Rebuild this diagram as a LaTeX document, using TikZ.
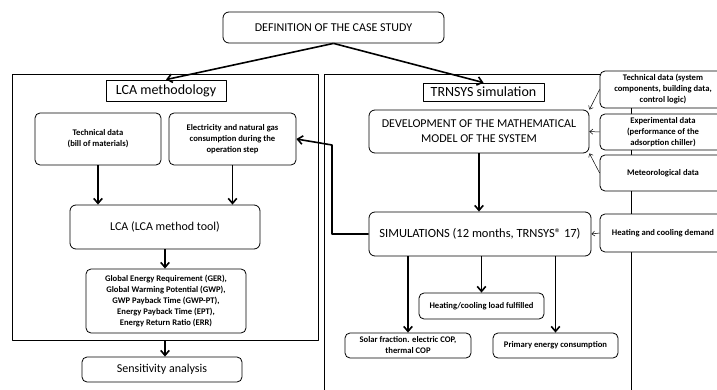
\documentclass[tikz,border=0pt]{standalone}
\usepackage{fontspec}
\setmainfont{Carlito}
\usetikzlibrary{arrows.meta}
\tikzset{
  box/.style={draw, rounded corners=6pt, fill=white, inner sep=0pt, align=center,
    font=\fontsize{12}{15}\selectfont},
  smallbox/.style={box, rounded corners=5pt, minimum width=126pt,
    font=\fontsize{8.6}{11}\selectfont\bfseries},
  headbox/.style={draw, fill=white, inner sep=0pt, font=\fontsize{14}{16}\selectfont},
  framebox/.style={draw, line width=0.8pt},
  flow/.style={-{Straight Barb[length=5pt,width=8.5pt]}, line width=1.6pt},
  feed/.style={-{Straight Barb[length=3pt,width=5pt]}, line width=0.5pt}
}
\begin{document}
\begin{tikzpicture}[x=1pt, y=-1pt, line width=0.8pt, line join=round]
            \useasboundingbox (0,0) rectangle (717,390);
            \clip (0,0) rectangle (717,390);
            \def\xd{663} % column of the input data boxes
            % the two frames
            \draw[framebox] (12,74) rectangle (318,340);
            \draw[framebox] (324,74) rectangle (631,400);
            \coordinate (lcabot) at (165,340);
            \coordinate (fbk) at (332,145);
            % top
            \node[box, minimum width=221pt, minimum height=31pt] (defin) at (333.5,27.5) {DEFINITION OF THE CASE STUDY};
            % LCA side
            \node[headbox, minimum width=120pt, minimum height=21pt] (lcahead) at (166,90.5) {LCA methodology};
            \node[smallbox, minimum height=52pt] (techbom) at (98,139) {Technical data\\(bill of materials)};
            \node[smallbox, minimum width=127pt, minimum height=52pt] (elec) at (232.5,139) {Electricity and natural gas\\consumption\ during the\\operation step};
            \node[box, minimum width=190pt, minimum height=44pt] (lcatool) at (165,227) {LCA (LCA method tool)};
            \node[smallbox, minimum width=160pt, minimum height=64pt] (indic) at (166,301) {Global Energy Requirement (GER),\\Global Warming\ Potential (GWP),\\GWP Payback Time (GWP-PT),\\Energy\ Payback Time (EPT),\\Energy Return Ratio (ERR)};
            \node[box, rounded corners=5pt, minimum width=160pt, minimum height=25pt] (sens) at (162,369.5) {Sensitivity analysis};
            % TRNSYS side
            \node[headbox, minimum width=121pt, minimum height=18pt] (trnhead) at (483.5,92) {TRNSYS simulation};
            \node[box, minimum width=220pt, minimum height=43pt] (devel) at (479,131.5) {DEVELOPMENT OF THE MATHEMATICAL\\MODEL OF THE SYSTEM};
            \node[smallbox, minimum height=37pt] (techsys) at (\xd,89.5) {Technical data (system\\components, building data,\\control logic)};
            \node[smallbox, minimum height=36pt] (expdata) at (\xd,132) {Experimental data\\(performance of the\\adsorption chiller)};
            \node[smallbox, minimum height=36pt] (meteo) at (\xd,173) {Meteorological data};
            \node[smallbox, minimum height=38pt] (heatdem) at (\xd,233) {Heating and cooling demand};
            \node[box, minimum width=222pt, minimum height=44pt, font=\fontsize{12.5}{15}\selectfont] (simul) at (480,234) {SIMULATIONS (12 months, TRNSYS® 17)};
            \node[smallbox, minimum width=125pt, minimum height=26pt] (loadful) at (481.5,306) {Heating/cooling load fulfilled};
            \node[smallbox, minimum height=25pt] (solar) at (408,345.5) {Solar fraction. electric COP,\\thermal COP};
            \node[smallbox, minimum width=125pt, minimum height=25pt] (primary) at (555.5,345.5) {Primary energy consumption};
            % connectors
            \draw[flow] (defin.south) -- (lcahead.north);
            \draw[flow] (defin.south) -- (trnhead.north);
            \draw[flow] (techbom.south) -- (techbom.south |- lcatool.north);
            \draw[flow] (elec.south) -- (elec.south |- lcatool.north);
            \draw[flow] (lcatool.south) -- (lcatool.south |- indic.north);
            \draw[flow] (lcabot) -- (lcabot |- sens.north);
            \draw[flow] (devel.south) -- (devel.south |- simul.north);
            \draw[flow] (simul.west) -| (fbk) -- (elec.east);
            \draw[flow] (simul.south -| solar.north) -- (solar.north);
            \draw[flow] (simul.south -| loadful.north) -- (loadful.north);
            \draw[flow] (simul.south -| primary.north) -- (primary.north);
            \draw[feed] (techsys.west) -- (devel.north east);
            \draw[feed] (expdata.west) -- (devel.east);
            \draw[feed] (meteo.west) -- (devel.south east);
            \draw[feed] (heatdem.west) -- (simul.east);
\end{tikzpicture}
\end{document}
